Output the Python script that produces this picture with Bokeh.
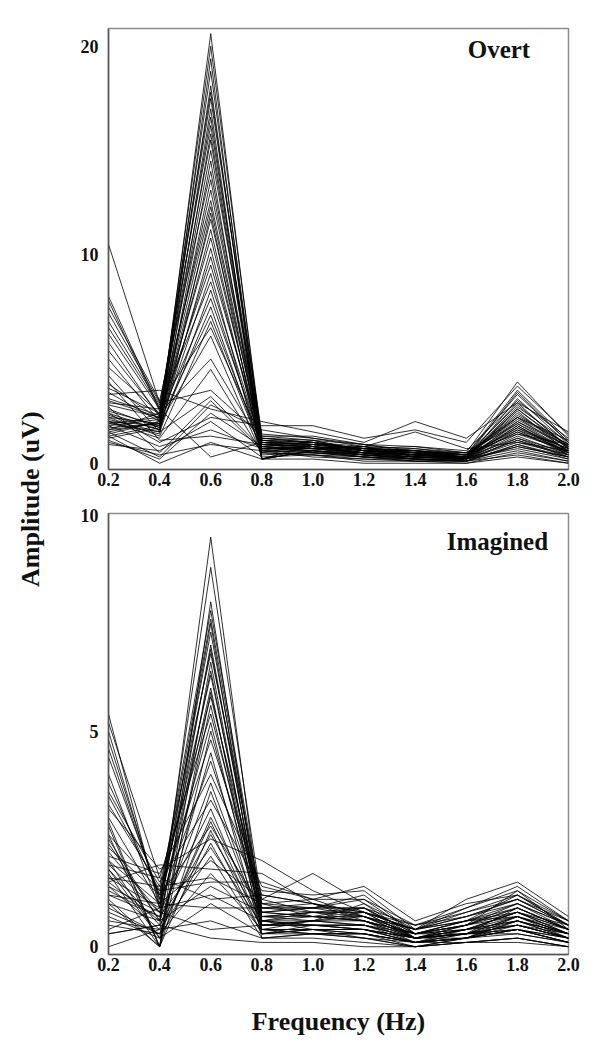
import math
from bokeh.plotting import figure
from bokeh.layouts import row, column
from bokeh.models import Label, FixedTicker, Range1d, PrintfTickFormatter
from bokeh.embed import file_html
from bokeh.resources import INLINE

# Frequencies (Hz)
freqs = [0.2, 0.4, 0.6, 0.8, 1.0, 1.2, 1.4, 1.6, 1.8, 2.0]
x_ticks = [0.2, 0.4, 0.6, 0.8, 1.0, 1.2, 1.4, 1.6, 1.8, 2.0]

# ---- Overt: amplitude (uV) per channel at each frequency ----
overt_f02 = [2.0, 1.8, 2.4, 3.1, 1.5, 7.8, 2.2, 1.9, 6.8, 2.6, 1.6, 3.4, 2.1, 7.5, 1.3, 2.8, 6.2, 2.0, 3.8, 1.7,
             5.4, 2.3, 1.4, 4.6, 2.5, 6.5, 1.9, 3.0, 1.2, 5.0, 2.2, 7.2, 1.6, 3.6, 2.0, 10.5, 2.7, 1.5, 3.3, 1.1,
             2.4, 0.9, 1.8, 3.9, 1.0, 2.9, 1.3, 4.2, 5.8, 8.0]
overt_f04 = [1.8, 2.1, 1.6, 2.3, 2.0, 2.5, 1.9, 2.2, 2.8, 1.7, 2.4, 2.0, 1.5, 3.0, 1.8, 2.2, 2.6, 1.4, 2.1, 1.9,
             2.3, 1.6, 2.0, 2.4, 1.8, 2.7, 1.5, 2.2, 1.7, 2.0, 1.3, 2.9, 1.9, 2.4, 1.2, 2.9, 0.5, 0.3, 3.5, 0.2,
             1.0, 0.6, 0.8, 1.1, 0.4, 2.6, 0.0, 1.5, 2.2, 2.6]
overt_f06 = [20.6, 20.0, 19.4, 18.8, 18.1, 17.5, 17.0, 16.6, 16.2, 15.8, 15.5, 15.0, 14.5, 14.0, 13.6, 13.1, 12.6, 12.0, 11.7, 11.2,
             10.8, 10.3, 9.9, 9.5, 9.1, 8.7, 8.3, 7.9, 7.5, 7.1, 6.8, 6.5, 6.1, 5.0, 4.5, 3.5, 3.0, 2.8, 2.6, 2.4,
             2.2, 2.0, 1.6, 1.3, 0.9, 0.3, 1.0, 3.2, 12.3, 17.8]
overt_f08 = [0.9, 1.2, 0.2, 1.0, 0.6, 1.4, 0.2, 0.5, 1.1, 0.9, 0.7, 1.3, 0.2, 1.0, 0.8, 1.2, 0.9, 0.2, 1.1, 0.7,
             1.0, 0.6, 0.8, 1.2, 0.2, 0.9, 0.7, 1.0, 0.5, 0.8, 0.6, 1.1, 0.4, 0.9, 0.5, 1.3, 0.6, 1.6, 2.0, 0.8,
             1.8, 0.3, 0.7, 0.9, 0.6, 1.0, 0.2, 0.7, 0.8, 1.1]
overt_f10 = [0.8, 1.0, 0.9, 0.7, 1.1, 1.2, 0.6, 0.9, 0.8, 1.0, 0.7, 1.3, 0.8, 0.9, 0.5, 1.1, 0.7, 0.6, 1.0, 0.8,
             0.9, 0.5, 0.7, 1.0, 0.6, 0.8, 0.7, 0.9, 0.4, 0.7, 0.6, 1.0, 0.5, 0.8, 0.4, 1.1, 0.5, 1.2, 1.5, 0.6,
             1.8, 0.4, 0.6, 0.8, 0.3, 0.9, 0.2, 0.7, 1.0, 0.9]
overt_f12 = [0.6, 0.7, 0.5, 0.8, 0.6, 0.9, 0.4, 0.7, 0.5, 0.6, 0.8, 0.9, 0.4, 0.7, 0.5, 0.6, 0.8, 0.3, 0.7, 0.5,
             0.6, 0.4, 0.5, 0.8, 0.3, 0.6, 0.5, 0.7, 0.3, 0.5, 0.4, 0.6, 0.3, 0.5, 0.2, 0.9, 0.3, 0.8, 1.0, 0.4,
             1.2, 0.1, 0.5, 0.6, 0.2, 0.7, 0.0, 0.4, 0.6, 0.7]
overt_f14 = [0.4, 0.5, 0.6, 0.3, 0.7, 0.5, 0.2, 0.6, 0.4, 0.5, 0.3, 0.8, 0.5, 0.6, 0.2, 0.4, 0.7, 0.3, 0.5, 0.4,
             0.6, 0.2, 0.3, 0.5, 0.1, 0.4, 0.3, 0.6, 0.2, 0.4, 0.2, 0.5, 0.1, 0.4, 0.2, 0.6, 0.2, 1.5, 2.0, 0.3,
             1.6, 0.1, 0.3, 0.4, 0.1, 0.8, 0.0, 0.3, 0.5, 0.4]
overt_f16 = [0.3, 0.4, 0.2, 0.3, 0.4, 0.5, 0.2, 0.3, 0.4, 0.2, 0.3, 0.6, 0.3, 0.4, 0.1, 0.3, 0.5, 0.2, 0.3, 0.2,
             0.4, 0.2, 0.3, 0.4, 0.1, 0.3, 0.2, 0.4, 0.1, 0.3, 0.2, 0.4, 0.2, 0.3, 0.1, 0.5, 0.1, 0.7, 1.2, 0.2,
             1.0, 0.0, 0.2, 0.3, 0.1, 0.5, 0.0, 0.3, 0.2, 0.3]
overt_f18 = [2.2, 2.8, 3.1, 2.5, 3.5, 3.9, 1.8, 2.9, 3.3, 2.0, 1.5, 3.0, 2.6, 2.2, 1.2, 2.4, 1.9, 1.6, 2.7, 1.4,
             2.1, 1.1, 1.8, 2.3, 0.9, 1.7, 1.3, 2.0, 0.8, 1.5, 1.0, 1.6, 0.7, 1.2, 0.6, 1.4, 0.9, 1.0, 2.9, 1.1,
             3.7, 0.5, 0.8, 1.9, 0.4, 2.2, 0.3, 1.7, 2.6, 3.4]
overt_f20 = [0.6, 0.8, 0.9, 0.5, 1.1, 1.3, 0.4, 0.7, 1.0, 0.6, 0.5, 1.2, 0.8, 0.9, 0.3, 0.7, 0.5, 0.4, 1.0, 0.6,
             0.8, 0.3, 0.5, 0.9, 0.2, 0.7, 0.4, 0.8, 0.3, 0.6, 0.4, 0.7, 0.2, 0.5, 0.1, 0.9, 0.3, 0.6, 1.5, 0.4,
             1.4, 0.1, 0.3, 0.6, 0.0, 1.1, 0.0, 0.5, 0.7, 1.0]

# ---- Imagined: amplitude (uV) per channel at each frequency ----
imag_f02 = [1.5, 5.4, 1.0, 3.8, 2.2, 5.0, 1.8, 3.3, 2.6, 4.6, 1.2, 3.5, 2.0, 5.2, 1.6, 2.8, 4.4, 1.4, 3.0, 2.4,
            1.1, 3.6, 1.9, 0.5, 2.3, 1.7, 0.3, 3.2, 1.3, 0.0, 2.0, 1.5, 0.8, 2.6, 1.0, 0.4, 1.8, 1.2, 0.6, 1.4,
            0.3, 4.8, 4.0, 2.1, 2.9, 0.9, 1.6, 2.5, 0.7, 1.9]
imag_f04 = [0.6, 0.9, 0.0, 1.2, 0.8, 1.0, 0.5, 1.4, 0.0, 1.1, 0.7, 1.3, 0.2, 1.6, 0.9, 0.0, 1.2, 0.4, 1.0, 0.6,
            0.0, 1.5, 0.8, 0.3, 1.2, 0.0, 0.5, 1.8, 0.7, 0.4, 1.0, 1.9, 0.3, 1.3, 0.6, 0.9, 0.2, 1.0, 0.4, 0.8,
            0.5, 1.1, 0.9, 1.7, 0.0, 0.3, 1.4, 0.6, 0.2, 1.6]
imag_f06 = [9.5, 8.8, 8.0, 7.8, 7.5, 7.3, 7.0, 6.8, 6.6, 6.3, 6.0, 5.8, 5.6, 5.4, 5.2, 5.0, 4.8, 4.5, 4.3, 3.8,
            3.6, 3.4, 3.2, 3.0, 2.8, 2.7, 2.6, 2.5, 2.3, 2.1, 2.0, 1.8, 1.7, 1.5, 1.4, 1.2, 1.0, 0.9, 0.6, 0.4,
            0.2, 7.6, 6.9, 4.0, 5.9, 2.9, 1.6, 6.4, 2.4, 1.1]
imag_f08 = [0.6, 1.0, 0.5, 0.9, 0.3, 0.8, 0.6, 1.1, 0.4, 0.7, 0.2, 1.0, 0.5, 0.9, 0.4, 0.7, 1.2, 0.3, 0.8, 0.6,
            0.5, 1.3, 0.4, 0.7, 0.9, 0.3, 0.6, 2.0, 0.5, 0.2, 1.1, 1.7, 0.4, 1.5, 0.8, 0.6, 0.3, 0.9, 0.2, 0.5,
            0.1, 0.8, 0.7, 1.4, 0.6, 0.4, 1.0, 0.5, 0.3, 1.2]
imag_f10 = [0.8, 0.7, 0.6, 1.0, 0.5, 0.9, 0.4, 0.8, 0.6, 0.7, 0.3, 1.1, 0.5, 0.9, 0.4, 0.8, 1.0, 0.4, 0.7, 0.6,
            0.5, 1.2, 0.3, 0.8, 0.9, 0.4, 0.5, 1.3, 0.6, 0.2, 1.7, 1.0, 0.4, 1.1, 0.7, 0.5, 0.3, 0.8, 0.3, 0.5,
            0.1, 0.9, 0.6, 1.1, 0.7, 0.3, 0.9, 0.6, 0.4, 1.0]
imag_f12 = [0.9, 0.6, 1.0, 0.7, 0.5, 1.2, 0.4, 0.8, 0.6, 0.9, 0.3, 0.7, 0.5, 1.1, 0.4, 0.8, 0.6, 0.3, 0.7, 0.5,
            0.4, 1.3, 0.3, 0.6, 0.9, 0.2, 0.5, 0.8, 0.7, 0.1, 1.0, 0.8, 0.3, 1.4, 0.6, 0.4, 0.2, 0.7, 0.2, 0.4,
            0.0, 0.7, 0.8, 1.1, 0.6, 0.3, 0.9, 0.5, 0.4, 0.8]
imag_f14 = [0.2, 0.3, 0.2, 0.4, 0.1, 0.3, 0.2, 0.4, 0.1, 0.3, 0.1, 0.4, 0.2, 0.3, 0.1, 0.2, 0.3, 0.0, 0.2, 0.3,
            0.1, 0.4, 0.1, 0.2, 0.3, 0.0, 0.2, 0.5, 0.2, 0.0, 0.4, 0.4, 0.1, 0.6, 0.3, 0.2, 0.0, 0.3, 0.1, 0.2,
            0.0, 0.3, 0.2, 0.5, 0.2, 0.1, 0.5, 0.2, 0.1, 0.4]
imag_f16 = [0.5, 0.3, 0.4, 0.6, 0.2, 0.5, 0.3, 0.7, 0.2, 0.4, 0.3, 0.6, 0.2, 0.5, 0.4, 0.3, 0.6, 0.2, 0.5, 0.4,
            0.2, 0.7, 0.3, 0.4, 0.6, 0.1, 0.3, 0.8, 0.4, 0.1, 1.1, 0.9, 0.2, 1.0, 0.5, 0.3, 0.2, 0.6, 0.1, 0.3,
            0.1, 0.5, 0.4, 0.9, 0.3, 0.2, 0.7, 0.3, 0.2, 0.8]
imag_f18 = [1.0, 0.7, 0.8, 1.2, 0.6, 0.9, 0.5, 1.1, 0.7, 0.8, 0.4, 1.0, 0.6, 1.3, 0.5, 0.9, 0.8, 0.4, 0.7, 0.6,
            0.5, 1.1, 0.3, 0.7, 0.9, 0.2, 0.5, 1.2, 0.6, 0.2, 1.5, 1.4, 0.4, 1.2, 0.8, 0.5, 0.3, 0.7, 0.2, 0.4,
            0.1, 0.9, 0.8, 1.3, 0.7, 0.4, 1.0, 0.6, 0.4, 1.1]
imag_f20 = [0.4, 0.3, 0.3, 0.5, 0.2, 0.4, 0.3, 0.6, 0.2, 0.4, 0.1, 0.5, 0.3, 0.4, 0.2, 0.4, 0.5, 0.1, 0.3, 0.3,
            0.2, 0.5, 0.1, 0.3, 0.4, 0.0, 0.2, 0.6, 0.3, 0.0, 0.7, 0.6, 0.1, 0.5, 0.4, 0.2, 0.1, 0.4, 0.0, 0.2,
            0.0, 0.4, 0.3, 0.6, 0.3, 0.2, 0.5, 0.2, 0.1, 0.5]

overt_cols = [overt_f02, overt_f04, overt_f06, overt_f08, overt_f10,
              overt_f12, overt_f14, overt_f16, overt_f18, overt_f20]
imag_cols = [imag_f02, imag_f04, imag_f06, imag_f08, imag_f10,
             imag_f12, imag_f14, imag_f16, imag_f18, imag_f20]

SERIF = "Liberation Serif"


def style_panel(p, yticks):
    p.grid.visible = False
    p.background_fill_color = "white"
    p.border_fill_color = "white"
    p.outline_line_color = "#8c8c8c"
    p.outline_line_width = 1.5
    p.xaxis.ticker = FixedTicker(ticks=x_ticks)
    p.xaxis.formatter = PrintfTickFormatter(format="%.1f")
    p.yaxis.ticker = FixedTicker(ticks=yticks)
    for ax in (p.xaxis, p.yaxis):
        ax.major_label_text_font = SERIF
        ax.major_label_text_font_style = "bold"
        ax.major_label_text_font_size = "18px"
        ax.major_label_text_color = "#111111"
        ax.major_tick_line_color = None
        ax.minor_tick_line_color = None
        ax.major_tick_out = 0
        ax.major_tick_in = 0
        ax.minor_tick_out = 0
        ax.minor_tick_in = 0
        ax.axis_line_color = "#555555"
        ax.axis_line_width = 1.5
    p.xaxis.major_label_standoff = 3
    p.yaxis.major_label_standoff = 10


def add_lines(p, cols):
    n = len(cols[0])
    xs = [freqs for _ in range(n)]
    ys = [[c[i] for c in cols] for i in range(n)]
    p.multi_line(xs, ys, line_color="black", line_width=0.9, line_alpha=0.9)


# Top panel (Overt)
p1 = figure(width=534, height=499, output_backend="svg", toolbar_location=None,
            x_range=Range1d(0.2, 2.0), y_range=Range1d(-0.3, 20.85),
            min_border_left=54, min_border_right=20, min_border_top=28, min_border_bottom=30)
add_lines(p1, overt_cols)
style_panel(p1, [0, 10, 20])
p1.add_layout(Label(x=1.85, y=19.85, text="Overt", text_align="right", text_baseline="middle",
                    text_font=SERIF, text_font_style="bold", text_font_size="25px", text_color="#111111"))

# Bottom panel (Imagined)
p2 = figure(width=534, height=540, output_backend="svg", toolbar_location=None,
            x_range=Range1d(0.2, 2.0), y_range=Range1d(-0.18, 10.05),
            min_border_left=54, min_border_right=20, min_border_top=14, min_border_bottom=85)
add_lines(p2, imag_cols)
style_panel(p2, [0, 5, 10])
p2.xaxis.axis_label = "Frequency (Hz)"
p2.xaxis.axis_label_text_font = SERIF
p2.xaxis.axis_label_text_font_style = "bold"
p2.xaxis.axis_label_text_font_size = "26px"
p2.xaxis.axis_label_text_color = "#111111"
p2.xaxis.axis_label_standoff = 33
p2.add_layout(Label(x=1.92, y=9.4, text="Imagined", text_align="right", text_baseline="middle",
                    text_font=SERIF, text_font_style="bold", text_font_size="25px", text_color="#111111"))

# Left strip holding the shared y-axis title
pl = figure(width=54, height=1039, output_backend="svg", toolbar_location=None,
            x_range=Range1d(0, 1), y_range=Range1d(0, 1),
            x_axis_location=None, y_axis_location=None,
            min_border_left=0, min_border_right=0, min_border_top=0, min_border_bottom=0)
pl.grid.visible = False
pl.outline_line_color = None
pl.add_layout(Label(x=0.56, y=0.52, text="Amplitude (uV)", angle=math.pi / 2,
                    text_align="center", text_baseline="middle",
                    text_font=SERIF, text_font_style="bold", text_font_size="26px", text_color="#111111"))

layout = row(pl, column(p1, p2, spacing=0), spacing=0)

open("out.html", "w").write(file_html(layout, INLINE))
